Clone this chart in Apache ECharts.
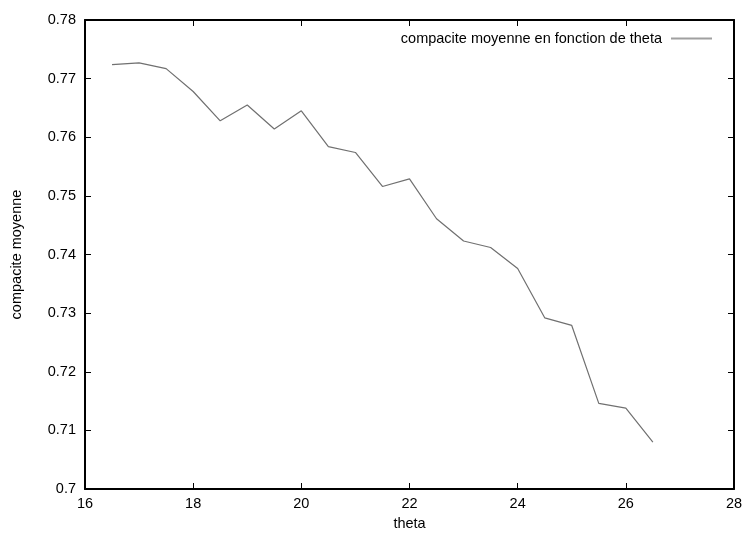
<!DOCTYPE html>
<html><head><meta charset="utf-8">
<script src="https://cdn.jsdelivr.net/npm/echarts@6/dist/echarts.min.js"></script>
<style>html,body{margin:0;padding:0;background:#fff}#c{width:746px;height:534px}</style>
</head><body><div id="c"></div>
<script>
const seriesName = 'compacite moyenne en fonction de theta';
const theta = [16.5,17,17.5,18,18.5,19,19.5,20,20.5,21,21.5,22,22.5,23,23.5,24,24.5,25,25.5,26,26.5];
const compacite = [0.7724,0.7727,0.7717,0.7678,0.7628,0.7655,0.7614,0.7645,0.7584,0.7574,0.7516,0.7529,0.7461,0.7423,0.7412,0.7376,0.7292,0.7279,0.7146,0.7138,0.7080];
const xName = 'theta';
const yName = 'compacite moyenne';

const font = 'Liberation Sans, Arial, sans-serif';
const fs = 14.5;
const chart = echarts.init(document.getElementById('c'));
const axisLine = {show:true, lineStyle:{color:'#000', width:2}};
const tick = {show:true, inside:true, length:6, lineStyle:{color:'#000', width:1}};
chart.setOption({
  animation:false,
  grid:{left:85, top:20, right:12, bottom:45, containLabel:false, outerBoundsMode:'none'},
  legend:{
    right:29, top:26, align:'right', itemWidth:41, itemHeight:2,
    textStyle:{fontFamily:font, fontSize:fs, color:'#000', padding:[0,4,0,0]},
    data:[{name:seriesName, icon:'rect', itemStyle:{color:'#a0a0a0'}}]
  },
  xAxis:[{
    type:'value', min:16, max:28, interval:2, position:'bottom',
    name:xName, nameLocation:'middle', nameGap:27,
    nameTextStyle:{fontFamily:font, fontSize:fs, color:'#000'},
    axisLine, axisTick:tick, splitLine:{show:false},
    axisLabel:{fontFamily:font, fontSize:fs, color:'#000', margin:7}
  },{
    type:'value', min:16, max:28, interval:2, position:'top',
    axisLine, axisTick:tick, splitLine:{show:false}, axisLabel:{show:false}
  }],
  yAxis:[{
    type:'value', min:0.70, max:0.78, interval:0.01, position:'left',
    name:yName, nameLocation:'middle', nameGap:61,
    nameTextStyle:{fontFamily:font, fontSize:fs, color:'#000'},
    axisLine, axisTick:tick, splitLine:{show:false},
    axisLabel:{fontFamily:font, fontSize:fs, color:'#000', margin:9,
      formatter:v=>String(+v.toFixed(2))}
  },{
    type:'value', min:0.70, max:0.78, interval:0.01, position:'right',
    axisLine, axisTick:tick, splitLine:{show:false}, axisLabel:{show:false}
  }],
  series:[{
    name:seriesName, type:'line', symbol:'none',
    data: theta.map((t,i)=>[t, compacite[i]]),
    lineStyle:{color:'#707070', width:1.2},
    itemStyle:{color:'#707070'}
  }]
});
</script></body></html>
